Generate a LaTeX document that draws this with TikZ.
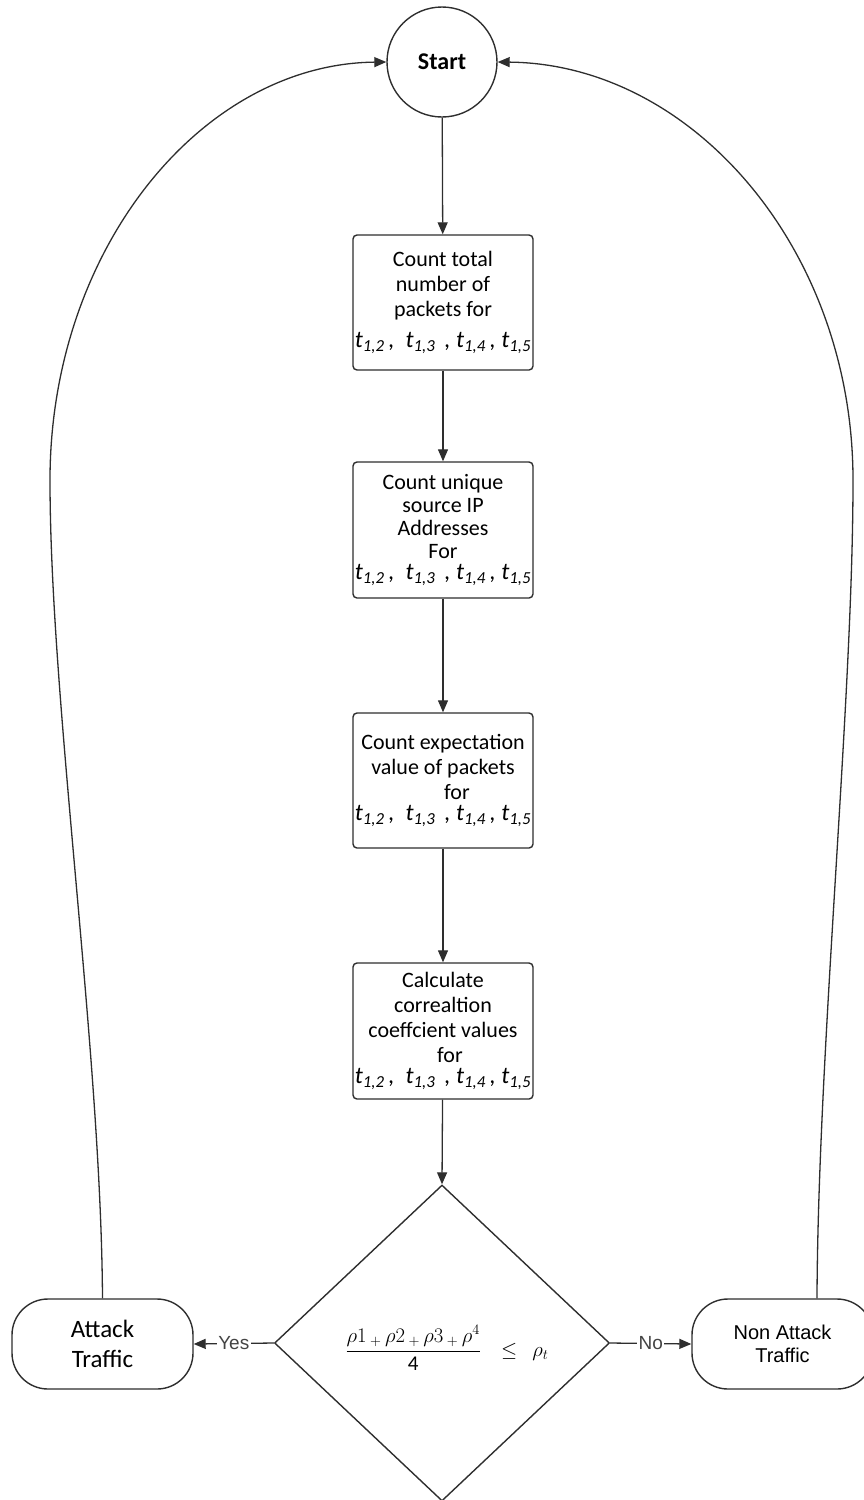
\documentclass[tikz,border=0pt]{standalone}
\usepackage{amsmath}
\usepackage{fontspec}
\setmainfont{Carlito}
\newfontfamily\arialfont{Liberation Sans}
\usetikzlibrary{arrows.meta,shapes.geometric}
\definecolor{linegray}{HTML}{2E2E2E}
\definecolor{labelgray}{HTML}{444444}

% list of the four time intervals, set in italics
\newcommand{\tlist}{{\fontsize{24}{26}\selectfont\itshape
  t\textsubscript{1,2}\,,\ \ t\textsubscript{1,3}\ \,,\ t\textsubscript{1,4}\,,\ t\textsubscript{1,5}}}

\begin{document}
\begin{tikzpicture}[x=1pt,y=-1pt,
  every node/.style={inner sep=0pt},
  procbox/.style={draw=linegray, line width=1.4pt, rounded corners=4pt,
    minimum width=180pt, align=center, fill=white},
  termbox/.style={draw=linegray, line width=1.4pt, rounded corners=36pt,
    minimum width=181pt, minimum height=90pt, align=center, fill=white},
  flow/.style={draw=linegray, line width=1.3pt,
    -{Triangle[length=12pt,width=10pt]}},
  flowlabel/.style={fill=white, inner sep=1.5pt, text=labelgray,
    font=\arialfont\fontsize{19}{22}\selectfont},
]
\useasboundingbox (0,0) rectangle (864,1500);

% start terminal
\node[circle, draw=linegray, line width=1.4pt, minimum size=110pt,
  font=\fontsize{24}{28}\selectfont\bfseries]
  (start) at (442,62) {Start};

% processing steps
\node[procbox, minimum height=135pt, font=\fontsize{22}{25}\selectfont]
  (count) at (443,302.5)
  {Count total\\number of\\packets for\\[6pt]\tlist};
\node[procbox, minimum height=136pt, font=\fontsize{22}{23}\selectfont]
  (unique) at (443,530)
  {Count unique\\source IP\\Addresses\\For\\[-2pt]\tlist};
\node[procbox, minimum height=135pt, font=\fontsize{22}{25}\selectfont]
  (expect) at (443,780.5)
  {Count expectation\\value of packets\\\hspace*{28pt}for\\[-4pt]\tlist};
\node[procbox, minimum height=136pt, font=\fontsize{22}{25}\selectfont]
  (correl) at (443,1031)
  {Calculate\\correaltion\\coeffcient values\\\hspace*{14pt}for\\[-4pt]\tlist};

% decision
\node[diamond, draw=linegray, line width=1.4pt, minimum width=335pt,
  minimum height=316pt] (test) at (442,1343) {};
\node[font=\fontsize{21}{24}\selectfont] (formula) at (447,1348)
  {$\dfrac{\rho1\,{}_{+}\,\rho2\,{}_{+}\,\rho3\,{}_{+}\,\rho^{4}}{\mbox{\fontsize{21}{24}\selectfont 4}}
  \ \ \ \leq\ \ \rho_{t}$};

% outcomes
\node[termbox, font=\fontsize{25}{30}\selectfont] (attack) at (102.5,1344)
  {Attack\\Traffic};
\node[termbox, font=\arialfont\fontsize{20}{23}\selectfont] (nonattack) at (782.5,1344)
  {Non Attack\\Traffic};
\coordinate (nonattackup) at ([xshift=34.5pt]nonattack.north);

% main flow
\draw[flow] (start) -- (count);
\draw[flow] (count) -- (unique);
\draw[flow] (unique) -- (expect);
\draw[flow] (expect) -- (correl);
\draw[flow] (correl) -- (test.north);
\draw[flow] (test.west) -- node[flowlabel] {Yes} (attack.east);
\draw[flow] (test.east) -- node[flowlabel] {No} (nonattack.west);

% loops back to the start
\draw[flow] (attack.north) .. controls (101,1050) and (50,700) .. (50,480)
  .. controls (50,250) and (201,64) .. (start.west);
\draw[flow] (nonattackup) .. controls (818,1050) and (853,700) .. (853,480)
  .. controls (853,250) and (693,64) .. (start.east);
\end{tikzpicture}
\end{document}
